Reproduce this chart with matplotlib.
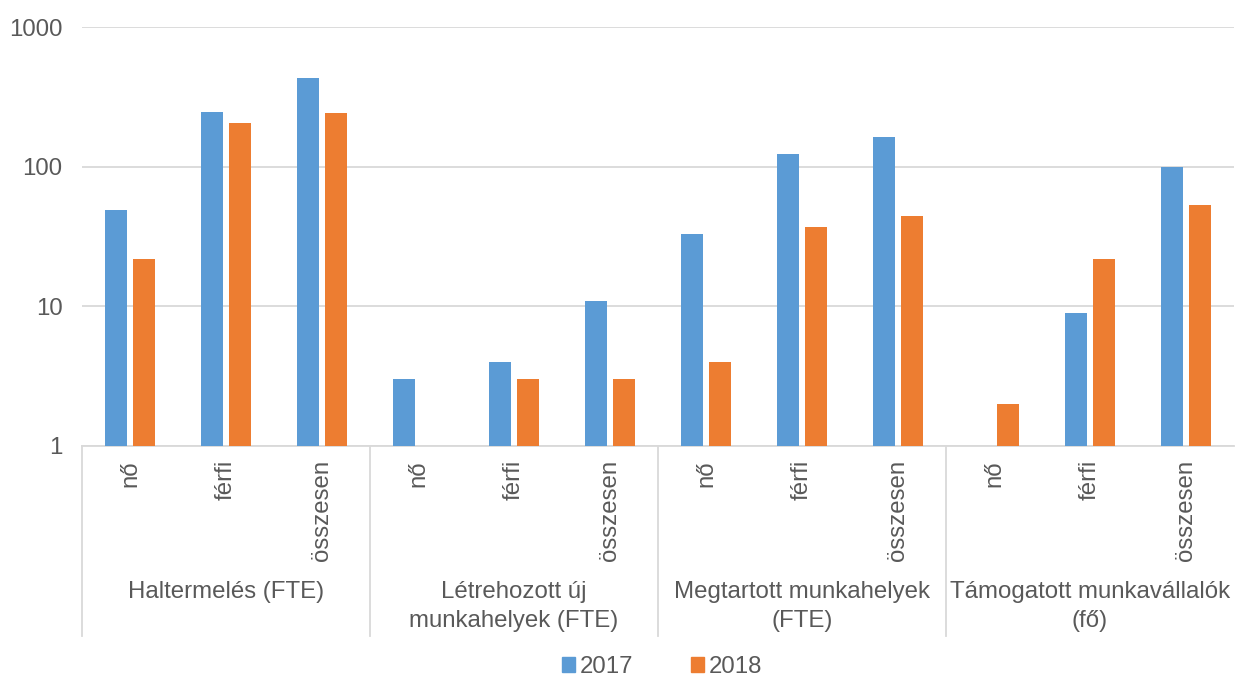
import numpy as np
import matplotlib.pyplot as plt
from matplotlib.patches import Patch
from matplotlib.ticker import FixedLocator, NullLocator, FixedFormatter
import matplotlib.transforms as mtransforms

plt.rcParams['font.family'] = ['Liberation Sans', 'DejaVu Sans']

# data (log scale, missing bars = nan)
groups = ["Haltermelés (FTE)", "Létrehozott új\nmunkahelyek (FTE)",
          "Megtartott munkahelyek\n(FTE)", "Támogatott munkavállalók\n(fő)"]
subcats = ["nő", "férfi", "összesen"]
values_2017 = [49, 246, 431, 3, 4, 11, 33, 123, 163, np.nan, 9, 100]
values_2018 = [22, 205, 242, np.nan, 3, 3, 4, 37, 44, 2, 22, 53]

blue = '#5B9BD5'
orange = '#ED7D31'
text_col = '#595959'
grid_col = '#D9D9D9'
fs = 17.3

fig = plt.figure(figsize=(12.35, 6.76), dpi=100)
ax = fig.add_axes([82 / 1235, 1 - 446 / 676, 1152 / 1235, 419 / 676])

x = np.arange(len(values_2017))
w = 0.23
ax.bar(x - 0.145, values_2017, w, color=blue, label='2017', zorder=3)
ax.bar(x + 0.145, values_2018, w, color=orange, label='2018', zorder=3)

ax.set_yscale('log')
ax.set_ylim(1, 1000)
ax.set_xlim(-0.5, len(x) - 0.5)
ax.yaxis.set_major_locator(FixedLocator([1, 10, 100, 1000]))
ax.yaxis.set_major_formatter(FixedFormatter(['1', '10', '100', '1000']))
ax.yaxis.set_minor_locator(NullLocator())
ax.grid(axis='y', color=grid_col, linewidth=1.3, zorder=0)

for s in ['top', 'right', 'left']:
    ax.spines[s].set_visible(False)
ax.spines['bottom'].set_color(grid_col)
ax.spines['bottom'].set_linewidth(1.3)

ax.set_xticks(x)
ax.set_xticklabels(subcats * len(groups), rotation=90, va='top', ha='center')
ax.tick_params(axis='x', length=0, pad=10, labelsize=fs, labelcolor=text_col)
ax.tick_params(axis='y', length=0, pad=14, labelsize=fs, labelcolor=text_col)

# group separators and group labels below the axis
trans = mtransforms.blended_transform_factory(ax.transData, ax.transAxes)
for k in range(len(groups) + 1):
    xs = -0.5 + 3 * k
    if xs > len(x) - 0.6:
        continue
    ax.plot([xs, xs], [0, -0.4535], color=grid_col, linewidth=1.3,
            transform=trans, clip_on=False)
for k, g in enumerate(groups):
    ax.text(3 * k + 1, -0.323, g, transform=trans, ha='center', va='top',
            fontsize=fs, color=text_col, linespacing=1.38)

handles = [Patch(color=blue), Patch(color=orange)]
fig.legend(handles, ['2017', '2018'], loc='center', bbox_to_anchor=(662 / 1235, 1 - 667 / 676),
           ncol=2, frameon=False, fontsize=fs, labelcolor=text_col,
           handlelength=0.55, handleheight=0.55, handletextpad=0.2, columnspacing=2.4)

fig.savefig('out.png', dpi=100)
